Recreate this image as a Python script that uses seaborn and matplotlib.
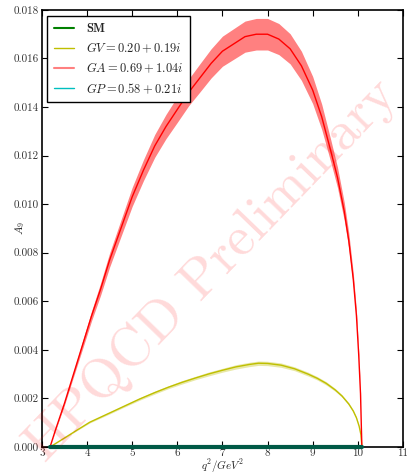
import numpy as np
import pandas as pd
import matplotlib
matplotlib.use("Agg")
import matplotlib.pyplot as plt
import seaborn as sns

# ---- data ----
q2_ga = [3.18, 3.3, 3.5, 3.7, 3.9, 4.1, 4.3, 4.5, 4.75, 5.0, 5.25, 5.5, 5.75, 6.0, 6.25,
         6.5, 6.75, 7.0, 7.25, 7.5, 7.75, 8.0, 8.25, 8.5, 8.75, 9.0, 9.2, 9.4, 9.55, 9.7,
         9.8, 9.9, 9.97, 10.02, 10.06, 10.09]
a_ga = [0.0, 0.0007, 0.0018, 0.0030, 0.0042, 0.0054, 0.0065, 0.0077, 0.0090, 0.0103, 0.0114,
        0.0124, 0.0132, 0.0139, 0.0146, 0.0152, 0.0158, 0.0163, 0.0166, 0.0169, 0.0170,
        0.0170, 0.0168, 0.0164, 0.0157, 0.0147, 0.0136, 0.0122, 0.0111, 0.0097, 0.0085,
        0.0069, 0.0054, 0.0038, 0.0022, 0.0]
e_ga = [0.0, 0.00003, 0.00007, 0.00011, 0.00016, 0.00020, 0.00025, 0.00029, 0.00034, 0.00039,
        0.00043, 0.00047, 0.00050, 0.00053, 0.00055, 0.00058, 0.00060, 0.00062, 0.00063,
        0.00064, 0.00065, 0.00065, 0.00064, 0.00062, 0.00060, 0.00056, 0.00052, 0.00046,
        0.00042, 0.00037, 0.00032, 0.00026, 0.00021, 0.00014, 0.00008, 0.0]

q2_gv = [3.18, 3.5, 3.8, 4.06, 4.5, 4.8, 5.17, 5.5, 5.8, 6.1, 6.4, 6.7, 7.0, 7.3, 7.6, 7.8,
         8.0, 8.3, 8.6, 8.9, 9.1, 9.3, 9.5, 9.65, 9.8, 9.9, 9.97, 10.03, 10.07, 10.09]
a_gv = [0.0, 0.00037, 0.00072, 0.00102, 0.0014, 0.00166, 0.00198, 0.00224, 0.00246, 0.00266,
        0.00284, 0.00301, 0.00316, 0.00330, 0.00340, 0.00345, 0.00344, 0.00337, 0.00322,
        0.00300, 0.00283, 0.00262, 0.00235, 0.00210, 0.00177, 0.00148, 0.00120, 0.00085,
        0.00050, 0.0]
e_gv = [0.0, 0.00001, 0.00002, 0.00003, 0.00004, 0.00004, 0.00005, 0.00006, 0.00006, 0.00007,
        0.00007, 0.00008, 0.00008, 0.00009, 0.00009, 0.00009, 0.00009, 0.00009, 0.00008,
        0.00008, 0.00007, 0.00007, 0.00006, 0.00005, 0.00005, 0.00004, 0.00003, 0.00002,
        0.00001, 0.0]

q2_zero = [3.18, 10.09]
a_sm = [0.0, 0.0]
a_gp = [0.0, 0.0]

labels = [r"$\mathbf{SM}$", r"$GV = 0.20 + 0.19i$", r"$GA = 0.69 + 1.04i$", r"$GP = 0.58 + 0.21i$"]
xticks = [3, 4, 5, 6, 7, 8, 9, 10, 11]
yticks = [0.000, 0.002, 0.004, 0.006, 0.008, 0.010, 0.012, 0.014, 0.016, 0.018]

sns.set_style("ticks")
plt.rcParams.update({
    "font.family": "serif",
    "font.serif": ["cmr10", "DejaVu Serif"],
    "mathtext.fontset": "cm",
    "axes.formatter.use_mathtext": True,
    "xtick.direction": "in",
    "ytick.direction": "in",
    "xtick.top": True,
    "ytick.right": True,
    "axes.linewidth": 1.2,
    "axes.edgecolor": "black",
})

fig = plt.figure(figsize=(4.07, 4.73), dpi=100)
ax = fig.add_axes([0.103, 0.055, 0.887, 0.924])

df_ga = pd.DataFrame({"q2": q2_ga, "A": a_ga, "e": e_ga})
df_gv = pd.DataFrame({"q2": q2_gv, "A": a_gv, "e": e_gv})
df_0 = pd.DataFrame({"q2": q2_zero, "sm": a_sm, "gp": a_gp})

sns.lineplot(data=df_0, x="q2", y="sm", color="g", lw=1.5, ax=ax, label=labels[0], zorder=3)
ax.fill_between(df_gv.q2, df_gv.A - df_gv.e, df_gv.A + df_gv.e, color="y", alpha=0.35, lw=0)
sns.lineplot(data=df_gv, x="q2", y="A", color="y", lw=1.0, ax=ax, label=labels[1], zorder=3)
ax.fill_between(df_ga.q2, df_ga.A - df_ga.e, df_ga.A + df_ga.e, color="#ff8080", lw=0)
sns.lineplot(data=df_ga, x="q2", y="A", color="r", lw=1.0, ax=ax, zorder=3)
ax.plot([], [], color="#ff8080", lw=1.5, label=labels[2])
sns.lineplot(data=df_0, x="q2", y="gp", color="#005a46", lw=3, ax=ax, zorder=4)
for ln in ax.lines[-1:]:
    ln.set_clip_on(False)
ax.plot([], [], color="c", lw=1.0, label=labels[3])

ax.set_xlim(3, 11)
ax.set_ylim(0, 0.018)
ax.set_xticks(xticks)
ax.set_yticks(yticks)
ax.set_xticklabels([str(t) for t in xticks])
ax.set_yticklabels([f"{t:.3f}" for t in yticks])
ax.tick_params(labelsize=8, length=4, width=0.8, pad=2, colors="black", labelcolor="#333333")
ax.tick_params(axis="x", pad=1)
ax.set_xlabel(r"$q^2/GeV^2$", fontsize=8)
ax.set_ylabel(r"$A_9$", fontsize=8)
ax.xaxis.set_label_coords(0.5, -0.023)
ax.yaxis.set_label_coords(-0.042, 0.5)

h, l = ax.get_legend_handles_labels()
hmap = dict(zip(l, h))
leg = ax.legend([hmap[x] for x in labels], labels, loc="upper left",
                bbox_to_anchor=(0.015, 0.986), borderaxespad=0, fontsize=9, frameon=True,
                fancybox=False, edgecolor="black", handlelength=1.6, handletextpad=1.0,
                labelspacing=0.45, borderpad=0.5)
leg.get_frame().set_linewidth(1.0)
leg.get_frame().set_alpha(1)

fig.text(0.52, 0.43, "HPQCD Preliminary", fontsize=40, color="red", alpha=0.15,
         rotation=46, ha="center", va="center", family=["cmr10", "DejaVu Serif"], zorder=10)

fig.savefig("out.png", dpi=100)
